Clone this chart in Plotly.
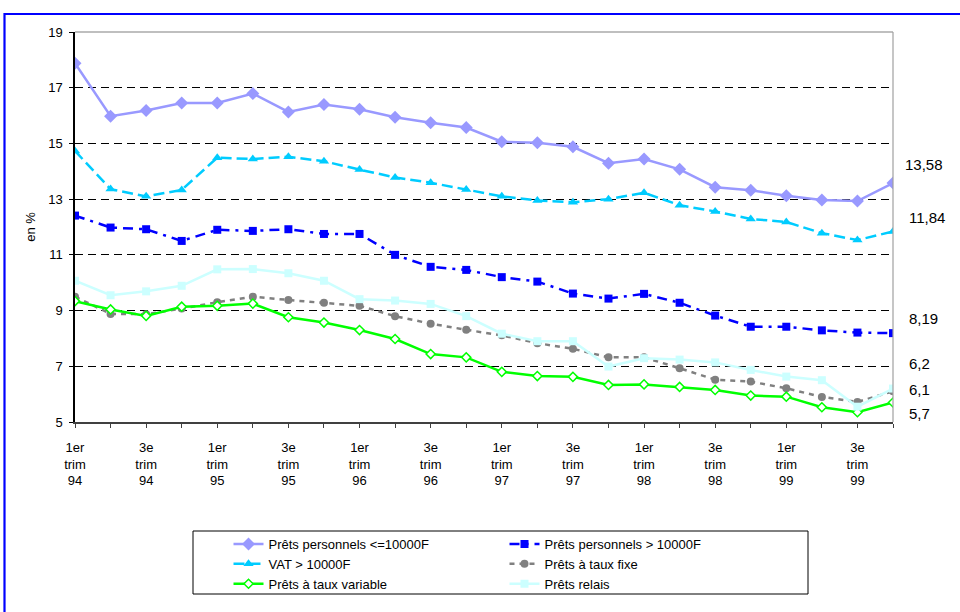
import plotly.graph_objects as go

# ---------------- data ----------------
quarters = []
for yr in ["94", "95", "96", "97", "98", "99"]:
    for q in ["1er", "2e", "3e", "4e"]:
        quarters.append(f"{q} trim {yr}")

tick_text = []
for i, q in enumerate(quarters):
    parts = q.split(" ")
    tick_text.append("<br>".join(parts) if i % 2 == 0 else "")

pp_small = [17.88, 15.98, 16.18, 16.45, 16.45, 16.79, 16.13, 16.40, 16.23, 15.94, 15.74, 15.57,
            15.06, 15.02, 14.88, 14.29, 14.44, 14.07, 13.43, 13.32, 13.12, 12.97, 12.93, 13.58]
pp_large = [12.41, 11.98, 11.92, 11.50, 11.90, 11.86, 11.92, 11.75, 11.75, 11.00, 10.57, 10.46,
            10.20, 10.04, 9.61, 9.43, 9.60, 9.28, 8.82, 8.42, 8.42, 8.29, 8.21, 8.19]
vat = [14.73, 13.36, 13.10, 13.33, 14.49, 14.44, 14.52, 14.36, 14.06, 13.78, 13.59, 13.35,
       13.10, 12.95, 12.89, 13.00, 13.23, 12.78, 12.56, 12.29, 12.18, 11.78, 11.53, 11.84]
taux_fixe = [9.50, 8.88, 8.87, 9.07, 9.30, 9.50, 9.38, 9.28, 9.17, 8.80, 8.53, 8.31,
             8.11, 7.83, 7.63, 7.32, 7.32, 6.93, 6.52, 6.45, 6.21, 5.90, 5.72, 6.10]
taux_var = [9.34, 9.04, 8.81, 9.14, 9.17, 9.25, 8.76, 8.57, 8.30, 7.98, 7.44, 7.32,
            6.80, 6.65, 6.62, 6.33, 6.35, 6.26, 6.15, 5.95, 5.91, 5.53, 5.35, 5.70]
relais = [10.07, 9.55, 9.69, 9.89, 10.48, 10.49, 10.34, 10.07, 9.41, 9.36, 9.24, 8.80,
          8.17, 7.90, 7.90, 6.99, 7.29, 7.24, 7.14, 6.87, 6.63, 6.50, 5.55, 6.20]

end_labels = ["13,58", "11,84", "8,19", "6,2", "6,1", "5,7"]
y_ticks = [5, 7, 9, 11, 13, 15, 17, 19]

FONT = "Arial, 'Liberation Sans', sans-serif"

fig = go.Figure()

fig.add_trace(go.Scatter(
    x=quarters, y=pp_small, name="Prêts personnels <=10000F", mode="lines+markers",
    line=dict(color="#9999FF", width=2.5),
    marker=dict(symbol="diamond", size=10, color="#9999FF")))
fig.add_trace(go.Scatter(
    x=quarters, y=pp_large, name="Prêts personnels > 10000F", mode="lines+markers",
    line=dict(color="#0000FF", width=2.5, dash="10px,6px,3px,6px"),
    marker=dict(symbol="square", size=8, color="#0000FF")))
fig.add_trace(go.Scatter(
    x=quarters, y=vat, name="VAT > 10000F", mode="lines+markers",
    line=dict(color="#00CCFF", width=2.5, dash="11px,5px"),
    marker=dict(symbol="triangle-up", size=9, color="#00CCFF")))
fig.add_trace(go.Scatter(
    x=quarters, y=taux_fixe, name="Prêts à taux fixe", mode="lines+markers",
    line=dict(color="#808080", width=2.5, dash="5px,5px"),
    marker=dict(symbol="circle", size=8, color="#808080")))
fig.add_trace(go.Scatter(
    x=quarters, y=taux_var, name="Prêts à taux variable", mode="lines+markers",
    line=dict(color="#00FF00", width=2.5),
    marker=dict(symbol="diamond", size=7, color="#FFFFFF", line=dict(color="#00FF00", width=1.5))))
fig.add_trace(go.Scatter(
    x=quarters, y=relais, name="Prêts relais", mode="lines+markers",
    line=dict(color="#CCFFFF", width=2.5),
    marker=dict(symbol="square", size=8, color="#CCFFFF")))

# plot area geometry (pixels) for converting to paper coords
L, R, T, B = 75, 893, 32, 422
def px(xp):
    return (xp - L) / (R - L)
def py(yp):
    return (B - yp) / (B - T)

label_pos_y = [164, 217, 318, 363, 389, 413]
label_pos_x = [903, 907, 907, 907, 907, 907]
annotations = []
for txt, xp, yp in zip(end_labels, label_pos_x, label_pos_y):
    annotations.append(dict(text=txt, xref="paper", yref="paper", x=px(xp), y=py(yp),
                            xanchor="left", yanchor="middle", showarrow=False,
                            font=dict(family=FONT, size=15, color="#000000")))

shapes = [
    # top and right border of plot area
    dict(type="line", xref="paper", yref="paper", x0=0, x1=1, y0=1, y1=1,
         line=dict(color="#808080", width=1.2)),
    dict(type="line", xref="paper", yref="paper", x0=1, x1=1, y0=0, y1=1,
         line=dict(color="#A0A0A0", width=1.2)),
    # legend box
    dict(type="rect", xref="paper", yref="paper", x0=px(193), x1=px(808), y0=py(594), y1=py(531),
         line=dict(color="#000000", width=1)),
    # outer blue frame
    dict(type="rect", xref="paper", yref="paper", x0=px(4.5), x1=px(1100), y0=py(700), y1=py(14),
         line=dict(color="#0000FF", width=2.2)),
]

fig.update_layout(
    width=960, height=612,
    margin=dict(l=L, r=960 - R, t=T, b=612 - B, autoexpand=False),
    paper_bgcolor="#FFFFFF", plot_bgcolor="#FFFFFF",
    font=dict(family=FONT, size=13, color="#000000"),
    showlegend=True,
    legend=dict(orientation="h", xref="paper", yref="paper", x=px(228.5), y=py(529),
                xanchor="left", yanchor="top", entrywidth=231, entrywidthmode="pixels",
                bgcolor="rgba(0,0,0,0)", borderwidth=0, font=dict(family=FONT, size=13),
                traceorder="normal"),
    xaxis=dict(type="category", categoryorder="array", categoryarray=quarters,
               range=[0, len(quarters) - 1], tickmode="array", tickvals=quarters, ticktext=tick_text,
               showline=True, linecolor="#404040", linewidth=2, ticks="outside", ticklen=4,
               tickcolor="#404040", tickwidth=1, showgrid=False, zeroline=False,
               ticklabelstandoff=8, tickfont=dict(family=FONT, size=13)),
    yaxis=dict(range=[5, 19], tickmode="array", tickvals=y_ticks,
               showline=True, linecolor="#000000", linewidth=1.5, ticks="outside", ticklen=4,
               tickcolor="#000000", showgrid=True, gridcolor="#000000", griddash="8px,5px",
               gridwidth=1, zeroline=False, ticklabelstandoff=4,
               title=dict(text="en %", font=dict(family=FONT, size=13), standoff=10),
               tickfont=dict(family=FONT, size=13)),
    annotations=annotations,
    shapes=shapes,
)

fig.write_html("out.html", config={"displayModeBar": False},
               post_script="document.body.style.margin='0';")
